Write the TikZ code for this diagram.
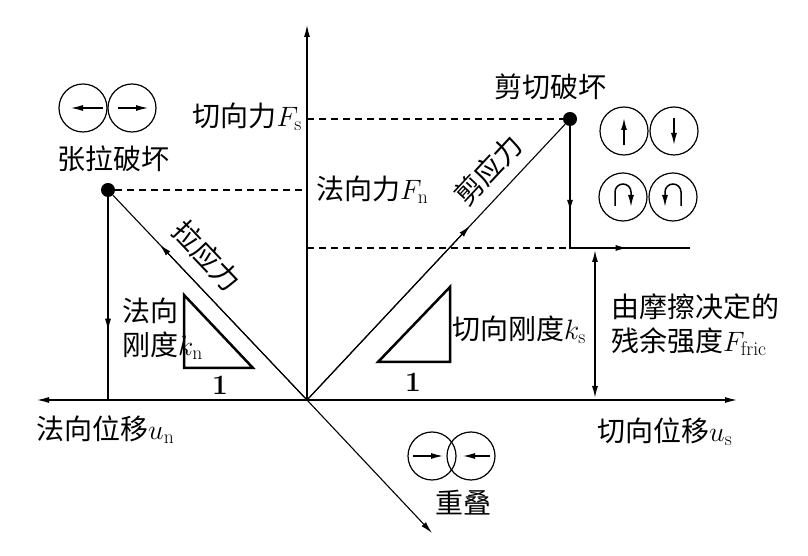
\RequirePackage{fix-cm}
\documentclass[tikz,border=0pt]{standalone}
\usepackage{fontspec}
\newfontfamily\cjk{Noto Sans CJK SC}
\usetikzlibrary{calc,arrows.meta}

\begin{document}
\begin{tikzpicture}[x=1pt,y=1pt,
	lab/.style={font=\cjk\fontsize{28}{34}\selectfont,inner sep=0},
	one/.style={font=\bfseries\fontsize{28}{30}\selectfont,inner sep=0},
	ball/.style={draw,circle,line width=1.2pt,inner sep=0,minimum size=48pt},
	dot/.style={circle,fill=black,inner sep=0,minimum size=14pt},
	tip/.style={-{Latex[length=12pt,width=6pt]}},
	axisline/.style={line width=1.1pt},
	dashline/.style={line width=1.5pt,dash pattern=on 7pt off 5pt}]
	\useasboundingbox (0,0) rectangle (808,556);
	% axes
	\coordinate (O) at (307,156);
	\coordinate (up) at (307,531);
	\coordinate (left) at (37,156);
	\coordinate (right) at (737,156);
	\coordinate (down) at (432,23);
	\draw[axisline,tip] (O) -- (up);
	\draw[axisline,tip] (O) -- (left);
	\draw[axisline,tip] (O) -- (right);
	\draw[axisline,tip] (O) -- (down);
	% tension
	\node[dot] (T) at (108,366) {};
	\coordinate (Tb) at (108,156);
	\coordinate (Ta) at (307,366);
	\draw[axisline] (O) -- (T);
	\draw[axisline,tip] (O) -- ($(O)!0.74!(T)$);
	\draw[axisline] (T) -- (Tb);
	\draw[axisline,tip] (T.center) -- ($(T.center)!0.67!(Tb)$);
	\draw[dashline] (T) -- (Ta);
	% shear
	\node[dot] (S) at (570,437) {};
	\coordinate (Sa) at (307,437);
	\coordinate (C) at (570,308);
	\coordinate (Ca) at (307,308);
	\coordinate (E) at (690,308);
	\draw[axisline] (O) -- (S);
	\draw[axisline,tip] (O) -- ($(O)!0.62!(S)$);
	\draw[dashline] (Sa) -- (S);
	\draw[line width=2pt] (S.center) -- (C) -- (E);
	\draw[line width=2pt,tip] (S.center) -- ($(S.center)!0.72!(C)$);
	\draw[axisline,tip] (C) -- ($(C)!0.48!(E)$);
	\draw[dashline] (Ca) -- (C);
	\coordinate (Fa) at (595,306);
	\coordinate (Fb) at (595,158);
	\draw[line width=1.5pt,{Latex[length=12pt,width=6pt]}-{Latex[length=12pt,width=6pt]}] (Fa) -- (Fb);
	% stiffness triangles
	\draw[line width=2.5pt,line join=miter] (184,261) -- (184,188) -- (253,188) -- cycle;
	\draw[line width=2.5pt,line join=miter] (378,194) -- (450,269) -- (450,194) -- cycle;
	\node[one] (n1) at (220,171) {1};
	\node[one] (s1) at (413,174) {1};
	% particles
	\node[ball] (t1) at (83,448) {};
	\node[ball] (t2) at (132,448) {};
	\draw[axisline,tip] ([xshift=20pt]t1.center) -- ([xshift=-12pt]t1.center);
	\draw[axisline,tip] ([xshift=-14pt]t2.center) -- ([xshift=16pt]t2.center);
	\node[ball] (s1a) at (624,425) {};
	\node[ball] (s1b) at (674,425) {};
	\draw[line width=1.5pt,tip] ([yshift=-14pt]s1a.center) -- ([yshift=13pt]s1a.center);
	\draw[line width=1.5pt,tip] ([yshift=13pt]s1b.center) -- ([yshift=-14pt]s1b.center);
	\node[ball] (s2a) at (623,359) {};
	\node[ball] (s2b) at (673,359) {};
	\draw[line width=1.5pt,tip] ([shift={(-8pt,-9pt)}]s2a.center) -- ++(0,14) arc (180:0:8) -- ++(0,-15);
	\draw[line width=1.5pt,tip] ([shift={(8pt,-9pt)}]s2b.center) -- ++(0,14) arc (0:180:8) -- ++(0,-15);
	\node[ball] (o1) at (432,100) {};
	\node[ball] (o2) at (471,100) {};
	\draw[axisline,tip] ([xshift=-19pt]o1.center) -- ([xshift=11pt]o1.center);
	\draw[axisline,tip] ([xshift=19pt]o2.center) -- ([xshift=-8pt]o2.center);
	% labels
	\node[lab] (tfail) at (113,397) {张拉破坏};
	\node[lab,anchor=east] (Fs) at (302,439) {切向力$F_\mathrm{s}$};
	\node[lab,anchor=west] (Fn) at (316,366) {法向力$F_\mathrm{n}$};
	\node[lab] (sfail) at (550,469) {剪切破坏};
	\node[lab,rotate=47] (sst) at (488,386) {剪应力};
	\node[lab,rotate=-46.5] (tst) at (207,300) {拉应力};
	\node[lab,anchor=west,align=left] (kn) at (122,227) {法向\\刚度$k_\mathrm{n}$};
	\node[lab,anchor=west] (ks) at (452,226) {切向刚度$k_\mathrm{s}$};
	\node[lab,anchor=west,align=left] (fric) at (611,231) {由摩擦决定的\\残余强度$F_\mathrm{fric}$};
	\node[lab,anchor=west] (un) at (36,126) {法向位移$u_\mathrm{n}$};
	\node[lab,anchor=west] (us) at (597,124) {切向位移$u_\mathrm{s}$};
	\node[lab] (ovl) at (463,53) {重叠};
\end{tikzpicture}
\end{document}
